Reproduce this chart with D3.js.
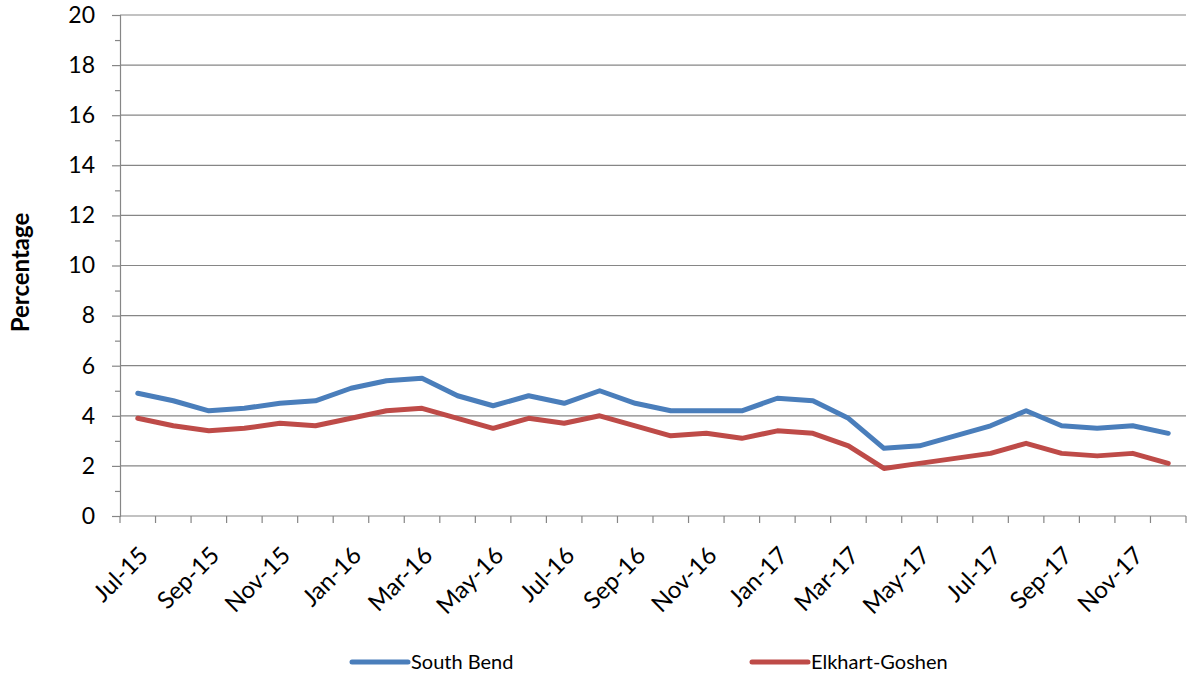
<!DOCTYPE html>
<html><head><meta charset="utf-8">
<script src="https://cdn.jsdelivr.net/npm/d3@7"></script>
<style>
body{margin:0;background:#fff;}
svg{display:block;font-family:Lato, "Liberation Sans", sans-serif;}
</style></head>
<body><svg id="c" width="1187" height="677"></svg>
<script>
const months = ["Jul-15","Aug-15","Sep-15","Oct-15","Nov-15","Dec-15","Jan-16","Feb-16","Mar-16","Apr-16","May-16","Jun-16","Jul-16","Aug-16","Sep-16","Oct-16","Nov-16","Dec-16","Jan-17","Feb-17","Mar-17","Apr-17","May-17","Jun-17","Jul-17","Aug-17","Sep-17","Oct-17","Nov-17","Dec-17"];
const southBend = [4.9,4.6,4.2,4.3,4.5,4.6,5.1,5.4,5.5,4.8,4.4,4.8,4.5,5.0,4.5,4.2,4.2,4.2,4.7,4.6,3.9,2.7,2.8,3.2,3.6,4.2,3.6,3.5,3.6,3.3];
const elkhartGoshen = [3.9,3.6,3.4,3.5,3.7,3.6,3.9,4.2,4.3,3.9,3.5,3.9,3.7,4.0,3.6,3.2,3.3,3.1,3.4,3.3,2.8,1.9,2.1,2.3,2.5,2.9,2.5,2.4,2.5,2.1];
const seriesNames = ["South Bend","Elkhart-Goshen"];
const seriesColors = ["#4a7ebb","#be4b48"];
const yMajorTicks = [0,2,4,6,8,10,12,14,16,18,20];
const yMinorTicks = [1,3,5,7,9,11,13,15,17,19];
const xLabelMonths = months.filter((m,i)=>i%2===0);

const svg = d3.select("#c");
const L=120, R=1186, T=15, B=516;
const x = d3.scaleBand().domain(months).range([L,R]);
const y = d3.scaleLinear().domain([0,20]).range([B,T]);
const grey = "#868686";

// gridlines
svg.append("g").selectAll("line").data(yMajorTicks.filter(v=>v>0)).join("line")
  .attr("x1",L).attr("x2",R).attr("y1",d=>y(d)).attr("y2",d=>y(d))
  .attr("stroke",grey).attr("stroke-width",1.2);

// y axis
const gy = svg.append("g").attr("transform",`translate(${L},0)`)
  .call(d3.axisLeft(y).tickValues(yMajorTicks).tickSize(8).tickPadding(17).tickFormat(d3.format("d")));
gy.select(".domain").attr("stroke",grey).attr("stroke-width",1.2);
gy.selectAll(".tick line").attr("stroke",grey).attr("stroke-width",1.2);
gy.selectAll("text").attr("font-size",23).attr("font-family","Lato, sans-serif").attr("fill","#000");
const gym = svg.append("g").attr("transform",`translate(${L},0)`)
  .call(d3.axisLeft(y).tickValues(yMinorTicks).tickSize(5).tickFormat(""));
gym.select(".domain").remove();
gym.selectAll(".tick line").attr("stroke",grey).attr("stroke-width",1.2);

// x axis baseline and ticks at band edges
const edges = months.map(m=>x(m)).concat([R]);
svg.append("line").attr("x1",L).attr("x2",R).attr("y1",B).attr("y2",B).attr("stroke",grey).attr("stroke-width",1.2);
svg.append("g").selectAll("line").data(edges).join("line")
  .attr("x1",d=>d).attr("x2",d=>d).attr("y1",B).attr("y2",B+7)
  .attr("stroke",grey).attr("stroke-width",1.2);
svg.append("g").selectAll("text").data(xLabelMonths).join("text")
  .attr("transform",d=>`translate(${x(d)+x.bandwidth()/2+6},${B+35}) rotate(-45)`)
  .attr("text-anchor","end").attr("dy","0.35em").attr("font-size",24).attr("fill","#000")
  .text(d=>d);

// y title
svg.append("text").attr("transform",`translate(29,${(T+B)/2+7}) rotate(-90)`)
  .attr("text-anchor","middle").attr("font-size",24).attr("font-weight","bold").text("Percentage");

// lines
const line = d3.line().x((d,i)=>x(months[i])+x.bandwidth()/2).y(d=>y(d));
[southBend, elkhartGoshen].forEach((s,k)=>{
  svg.append("path").datum(s).attr("d",line).attr("fill","none")
    .attr("stroke",seriesColors[k]).attr("stroke-width",5).attr("stroke-linejoin","round").attr("stroke-linecap","round");
});

// legend
const legX = [352,752];
seriesNames.forEach((n,k)=>{
  const g = svg.append("g").attr("transform",`translate(${legX[k]},662)`);
  g.append("line").attr("x1",0).attr("x2",56).attr("stroke",seriesColors[k]).attr("stroke-width",5).attr("stroke-linecap","round");
  g.append("text").attr("x",59).attr("dy","0.35em").attr("font-size",20).attr("fill","#000").text(n);
});
</script></body></html>
